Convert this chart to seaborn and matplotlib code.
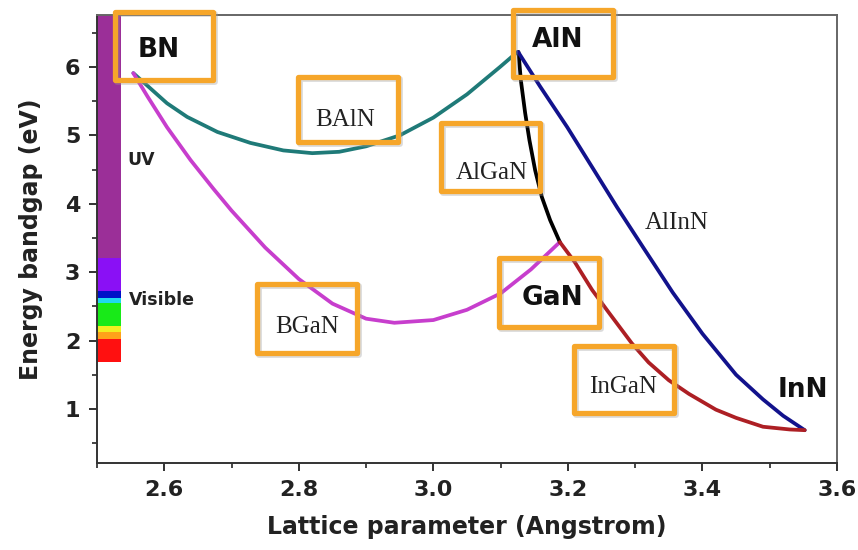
import numpy as np
import pandas as pd
import seaborn as sns
import matplotlib.pyplot as plt
from matplotlib.patches import Rectangle
from matplotlib import transforms

# ---- bandgap vs lattice parameter for the nitride alloys ----
baln_a = [2.554, 2.579, 2.604, 2.634, 2.679, 2.728, 2.777, 2.82, 2.86, 2.90,
          2.95, 3.00, 3.05, 3.099, 3.125]
baln_e = [5.91, 5.69, 5.47, 5.27, 5.05, 4.89, 4.78, 4.74, 4.76, 4.84,
          5.00, 5.26, 5.60, 6.00, 6.22]

bgan_a = [2.554, 2.575, 2.604, 2.639, 2.673, 2.70, 2.75, 2.80, 2.85, 2.90,
          2.942, 3.00, 3.05, 3.10, 3.145, 3.188]
bgan_e = [5.91, 5.57, 5.12, 4.64, 4.22, 3.90, 3.36, 2.90, 2.54, 2.32,
          2.26, 2.30, 2.45, 2.69, 3.04, 3.44]

algan_a = [3.1265, 3.130, 3.1364, 3.1428, 3.1513, 3.1612, 3.1736, 3.188]
algan_e = [6.22, 5.81, 5.33, 4.93, 4.49, 4.10, 3.76, 3.44]

alinn_a = [3.126, 3.159, 3.199, 3.237, 3.273, 3.312, 3.356, 3.40, 3.45,
           3.49, 3.52, 3.552]
alinn_e = [6.22, 5.71, 5.12, 4.52, 3.95, 3.36, 2.70, 2.10, 1.50,
           1.14, 0.90, 0.69]

ingan_a = [3.188, 3.21, 3.236, 3.26, 3.295, 3.32, 3.35, 3.38, 3.42, 3.45,
           3.49, 3.53, 3.552]
ingan_e = [3.44, 3.15, 2.74, 2.42, 1.96, 1.68, 1.42, 1.22, 0.99, 0.87,
           0.74, 0.70, 0.69]

alloy_colors = {
    "BAlN": "#1f7a78",
    "BGaN": "#c73ecd",
    "AlGaN": "#000000",
    "AlInN": "#12128c",
    "InGaN": "#ad1f24",
}

# ---- spectrum strip on the energy axis ----
band_bottom = [3.20, 2.72, 2.62, 2.55, 2.22, 2.12, 2.03, 1.68]
band_top    = [6.76, 3.20, 2.72, 2.62, 2.55, 2.22, 2.12, 2.03]
band_colors = ["#9b2f98", "#8a10f5", "#0010c8", "#20d8f0", "#18ea18",
               "#f2ef20", "#ffa21a", "#ff1010"]

x_ticks = [2.6, 2.8, 3.0, 3.2, 3.4, 3.6]
y_ticks = [1, 2, 3, 4, 5, 6]

frames = []
for name, a, e in [("BAlN", baln_a, baln_e), ("BGaN", bgan_a, bgan_e),
                   ("AlGaN", algan_a, algan_e), ("AlInN", alinn_a, alinn_e),
                   ("InGaN", ingan_a, ingan_e)]:
    frames.append(pd.DataFrame({"a": a, "E": e, "alloy": name}))
df = pd.concat(frames, ignore_index=True)

sns.set_theme(style="ticks")
plt.rcParams["font.family"] = ["DejaVu Sans"]

fig = plt.figure(figsize=(8.58, 5.5), dpi=100)
ax = fig.add_axes([97 / 858, 1 - 463 / 550, (837 - 97) / 858, (463 - 15) / 550])

ax.bar(x=[2.5] * len(band_bottom),
       height=np.array(band_top) - np.array(band_bottom),
       bottom=band_bottom, width=0.036, align="edge",
       color=band_colors, linewidth=0, zorder=1)

sns.lineplot(data=df, x="a", y="E", hue="alloy", palette=alloy_colors,
             sort=False, estimator=None, linewidth=2.7, legend=False,
             ax=ax, zorder=3)
for ln in ax.get_lines():
    ln.set_solid_capstyle("round")
    ln.set_solid_joinstyle("round")

ax.set_xlim(2.5, 3.6)
ax.set_ylim(0.21, 6.76)
ax.set_xticks(x_ticks)
ax.set_xticklabels([f"{v:.1f}" for v in x_ticks])
ax.set_yticks(y_ticks)
ax.set_xticks(np.arange(2.5, 3.61, 0.1), minor=True)
ax.set_yticks(np.arange(0.5, 6.6, 0.5), minor=True)
ax.tick_params(which="major", direction="out", length=6, width=1.3,
               labelsize=16, colors="#222222", pad=6)
ax.tick_params(which="minor", direction="out", length=3.5, width=1.2)
for lab in ax.get_xticklabels() + ax.get_yticklabels():
    lab.set_fontweight("bold")
for side in ["left", "bottom", "right", "top"]:
    ax.spines[side].set_linewidth(1.4)
    ax.spines[side].set_color("#333333")
ax.spines["top"].set_color("#666666")
ax.spines["right"].set_color("#666666")

ax.set_xlabel("Lattice parameter (Angstrom)", fontsize=17, fontweight="bold",
              labelpad=11, color="#222222")
ax.set_ylabel("Energy bandgap (eV)", fontsize=17, fontweight="bold",
              labelpad=16, color="#222222")

# ---- orange label frames ----
orange = "#f6a62a"
shadow = transforms.offset_copy(ax.transData, fig=fig, x=2, y=-2, units="dots")
frames_xy = [
    (2.527, 5.81, 2.673, 6.80),   # BN
    (3.119, 5.85, 3.267, 6.83),   # AlN
    (2.799, 4.90, 2.948, 5.85),   # BAlN
    (3.012, 4.19, 3.159, 5.18),   # AlGaN
    (3.098, 2.20, 3.246, 3.21),   # GaN
    (3.209, 0.94, 3.358, 1.92),   # InGaN
    (2.738, 1.82, 2.887, 2.83),   # BGaN
]
for x0, y0, x1, y1 in frames_xy:
    ax.add_patch(Rectangle((x0, y0), x1 - x0, y1 - y0, fill=False,
                           ec="#9a9a9a", lw=4.2, alpha=0.35, joinstyle="round",
                           transform=shadow, clip_on=False, zorder=4))
    ax.add_patch(Rectangle((x0, y0), x1 - x0, y1 - y0, fill=False,
                           ec=orange, lw=3.8, joinstyle="round",
                           clip_on=False, zorder=5))

bold_kw = dict(fontsize=19, fontweight="bold", color="#111111",
               ha="center", va="center", zorder=6)
serif_kw = dict(fontsize=18, family=["Liberation Serif"], color="#222222",
                ha="center", va="center", zorder=6)

ax.text(2.591, 6.25, "BN", **bold_kw)
ax.text(3.185, 6.39, "AlN", **bold_kw)
ax.text(3.177, 2.62, "GaN", **bold_kw)
ax.text(3.549, 1.28, "InN", **bold_kw)
ax.text(2.869, 5.23, "BAlN", **serif_kw)
ax.text(3.087, 4.45, "AlGaN", **serif_kw)
ax.text(3.282, 1.32, "InGaN", **serif_kw)
ax.text(2.812, 2.20, "BGaN", **serif_kw)
ax.text(3.362, 3.72, "AlInN", **serif_kw)

ax.text(2.545, 4.64, "UV", fontsize=12.5, fontweight="bold", color="#222222",
        ha="left", va="center", zorder=6)
ax.text(2.547, 2.59, "Visible", fontsize=12.5, fontweight="bold",
        color="#222222", ha="left", va="center", zorder=6)

fig.savefig("out.png", dpi=100, facecolor="white")
